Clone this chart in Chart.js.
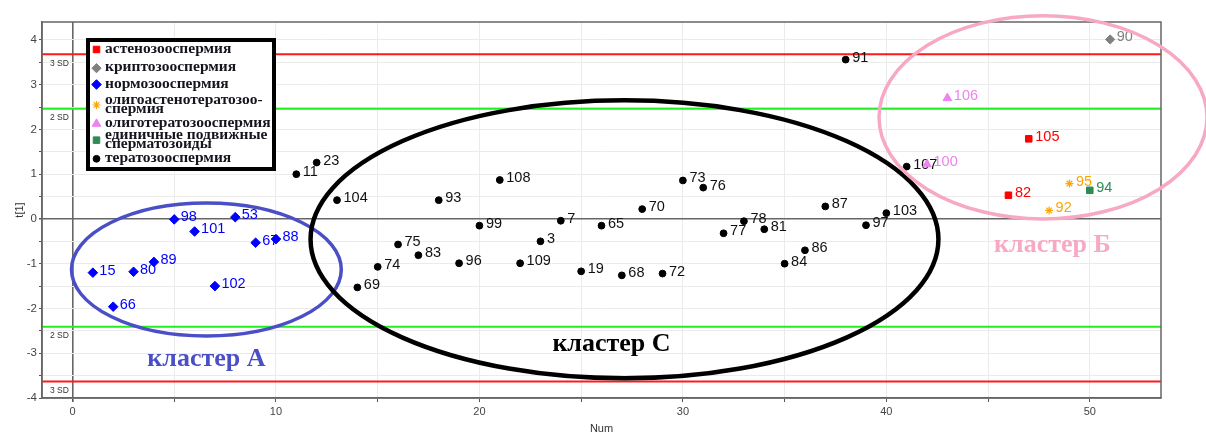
<!DOCTYPE html>
<html>
<head>
<meta charset="utf-8">
<script src="https://cdn.jsdelivr.net/npm/chart.js@4.4.1/dist/chart.umd.min.js"></script>
<style>
  html, body { margin: 0; padding: 0; background: #fff; }
  #wrap { width: 1206px; height: 434px; }
</style>
</head>
<body>
<div id="wrap"><canvas id="c" width="1206" height="434"></canvas></div>
<script>
// Score plot t[1] vs sample number, grouped by diagnosis
const astenoNum = [46, 47];
const astenoT1  = [0.53, 1.79];
const astenoId  = ['82', '105'];

const kriptoNum = [51];
const kriptoT1  = [4.01];
const kriptoId  = ['90'];

const normoNum = [1, 2, 3, 4, 5, 6, 7, 8, 9, 10];
const normoT1  = [-1.20, -1.96, -1.18, -0.96, -0.01, -0.28, -1.50, 0.04, -0.53, -0.45];
const normoId  = ['15', '66', '80', '89', '98', '101', '102', '53', '67', '88'];

const oligoAstenoNum = [48, 49];
const oligoAstenoT1  = [0.19, 0.79];
const oligoAstenoId  = ['92', '95'];

const oligoTeratoNum = [42, 43];
const oligoTeratoT1  = [1.22, 2.70];
const oligoTeratoId  = ['100', '106'];

const singleNum = [50];
const singleT1  = [0.64];
const singleId  = ['94'];

const teratoNum = [11, 12, 13, 14, 15, 16, 17, 18, 19, 20, 21, 22, 23, 24, 25, 26,
                   27, 28, 29, 30, 31, 32, 33, 34, 35, 36, 37, 38, 39, 40, 41];
const teratoT1  = [1.00, 1.26, 0.42, -1.53, -1.07, -0.57, -0.81, 0.42, -0.99, -0.15,
                   0.87, -0.99, -0.50, -0.04, -1.17, -0.15, -1.26, 0.22, -1.22, 0.86,
                   0.70, -0.32, -0.05, -0.23, -1.00, -0.70, 0.28, 3.56, -0.14, 0.13, 1.17];
const teratoId  = ['11', '23', '104', '69', '74', '75', '83', '93', '96', '99', '108',
                   '109', '3', '7', '19', '65', '68', '70', '72', '73', '76', '77', '78',
                   '81', '84', '86', '87', '91', '97', '103', '107'];

// Control limits (2 SD and 3 SD)
const sdLevels = [3.68, 2.46, -2.41, -3.63];
const sdNames  = ['3 SD', '2 SD', '2 SD', '3 SD'];

// Grid positions and the subset that carries a label
const xGridValues = [0, 5, 10, 15, 20, 25, 30, 35, 40, 45, 50];
const xTickLabels = [0, 10, 20, 30, 40, 50];
const yGridValues = [-4, -3.5, -3, -2.5, -2, -1.5, -1, -0.5, 0, 0.5, 1, 1.5, 2, 2.5, 3, 3.5, 4];
const yTickLabels = [-4, -3, -2, -1, 0, 1, 2, 3, 4];

const clusterNames = ['кластер А', 'кластер С', 'кластер Б'];

const legendLabels = [
  ['астенозооспермия'],
  ['криптозооспермия'],
  ['нормозооспермия'],
  ['олигоастенотератозоо-', 'спермия'],
  ['олиготератозооспермия'],
  ['единичные подвижные', 'сперматозоиды'],
  ['тератозооспермия']
];

function pts(xs, ys) { return xs.map((x, i) => ({ x: x, y: ys[i] })); }

const groups = [
  { name: legendLabels[0], xs: astenoNum, ys: astenoT1, ids: astenoId, color: '#ff0000', style: 'rect', r: 4.6 },
  { name: legendLabels[1], xs: kriptoNum, ys: kriptoT1, ids: kriptoId, color: '#808080', style: 'rectRot', r: 4.6 },
  { name: legendLabels[2], xs: normoNum, ys: normoT1, ids: normoId, color: '#0000ff', style: 'rectRot', r: 4.8 },
  { name: legendLabels[3], xs: oligoAstenoNum, ys: oligoAstenoT1, ids: oligoAstenoId, color: '#ffa500', style: 'star', r: 4 },
  { name: legendLabels[4], xs: oligoTeratoNum, ys: oligoTeratoT1, ids: oligoTeratoId, color: '#ee82ee', style: 'triangle', r: 5 },
  { name: legendLabels[5], xs: singleNum, ys: singleT1, ids: singleId, color: '#2e8b57', style: 'rect', r: 4.6 },
  { name: legendLabels[6], xs: teratoNum, ys: teratoT1, ids: teratoId, color: '#000000', style: 'circle', r: 3.4 }
];

// Cluster outlines in data units
const clusterShapes = [
  { cx: 6.58, cy: -1.13, rx: 6.63, ry: 1.485, color: '#4a4fc6', width: 3.5, tx: 6.58, ty: -3.14 },
  { cx: 27.13, cy: -0.455, rx: 15.43, ry: 3.105, color: '#000000', width: 4.5, tx: 26.49, ty: -2.81 },
  { cx: 47.7, cy: 2.27, rx: 8.06, ry: 2.27, color: '#f7a8c4', width: 3.5, tx: 48.16, ty: -0.59 }
];

function drawMarker(ctx, style, r, color, px, py) {
  ctx.save();
  ctx.fillStyle = color;
  ctx.strokeStyle = color;
  ctx.lineWidth = style === 'star' ? 1.2 : 1;
  Chart.helpers.drawPoint(ctx, { pointStyle: style, radius: r, borderWidth: ctx.lineWidth }, px, py);
  ctx.restore();
}

const overlay = {
  id: 'overlay',
  beforeDatasetsDraw(chart) {
    const { ctx, chartArea: a, scales: { y } } = chart;
    ctx.save();
    // control limit lines
    sdLevels.forEach((v, i) => {
      const py = y.getPixelForValue(v);
      ctx.strokeStyle = Math.abs(v) > 3 ? '#ff1a1a' : '#22ee22';
      ctx.lineWidth = 2;
      ctx.beginPath(); ctx.moveTo(a.left, py); ctx.lineTo(a.right, py); ctx.stroke();
      ctx.fillStyle = '#333';
      ctx.font = '8.5px Arial';
      ctx.textBaseline = 'middle';
      ctx.textAlign = 'left';
      ctx.fillText(sdNames[i], a.left + 8, py + 9);
    });
    // point labels
    chart.data.datasets.forEach((ds, di) => {
      const meta = chart.getDatasetMeta(di);
      ctx.fillStyle = ds.labelColor;
      ctx.font = '14.5px Arial';
      ctx.textBaseline = 'middle';
      ctx.textAlign = 'left';
      meta.data.forEach((el, i) => {
        ctx.fillText(ds.ids[i], el.x + 6.5, el.y - 2);
      });
    });
    ctx.restore();
  },
  afterDraw(chart) {
    const { ctx, chartArea: a, scales: { x, y } } = chart;
    ctx.save();
    // frame
    ctx.strokeStyle = '#666';
    ctx.lineWidth = 1.5;
    ctx.strokeRect(a.left, a.top, a.right - a.left, a.bottom - a.top);

    // cluster outlines and names
    clusterShapes.forEach((c, i) => {
      const px = x.getPixelForValue(c.cx), py = y.getPixelForValue(c.cy);
      const rx = Math.abs(x.getPixelForValue(c.cx + c.rx) - px);
      const ry = Math.abs(y.getPixelForValue(c.cy + c.ry) - py);
      ctx.strokeStyle = c.color;
      ctx.lineWidth = c.width;
      ctx.beginPath(); ctx.ellipse(px, py, rx, ry, 0, 0, Math.PI * 2); ctx.stroke();
      ctx.fillStyle = c.color;
      ctx.font = 'bold 26px "Liberation Serif", "Times New Roman", serif';
      ctx.textAlign = 'center';
      ctx.textBaseline = 'middle';
      ctx.fillText(clusterNames[i], x.getPixelForValue(c.tx), y.getPixelForValue(c.ty));
    });

    // axis titles
    ctx.fillStyle = '#333';
    ctx.font = '11px Arial';
    ctx.textAlign = 'center';
    ctx.textBaseline = 'middle';
    ctx.fillText('Num', (a.left + a.right) / 2, 429);
    ctx.save();
    ctx.translate(20, (a.top + a.bottom) / 2);
    ctx.rotate(-Math.PI / 2);
    ctx.fillText('t[1]', 0, 0);
    ctx.restore();

    // legend
    const lx = 88, ly = 40, lw = 186, lh = 129;
    ctx.fillStyle = '#fff';
    ctx.fillRect(lx, ly, lw, lh);
    ctx.strokeStyle = '#000';
    ctx.lineWidth = 4;
    ctx.strokeRect(lx, ly, lw, lh);
    const rows = [[49], [67.7], [84], [100, 109], [123.3], [135, 144.3], [158.3]];
    groups.forEach((g, i) => {
      const ys = rows[i];
      const my = (ys[0] + ys[ys.length - 1]) / 2 + 0.5;
      drawMarker(ctx, g.style, g.r, g.color, 96.5, my);
      ctx.font = 'bold 15.5px "Liberation Serif", "Times New Roman", serif';
      ctx.textAlign = 'left';
      ctx.textBaseline = 'alphabetic';
      ctx.fillStyle = '#15151f';
      g.name.forEach((line, k) => ctx.fillText(line, 105, ys[k] + 3.5));
    });
    ctx.restore();
  }
};

const zeroGrid = c => c.tick && c.tick.value === 0;

const chart = new Chart(document.getElementById('c'), {
  type: 'scatter',
  data: {
    datasets: groups.map(g => ({
      label: g.name.join(' '),
      data: pts(g.xs, g.ys),
      ids: g.ids,
      labelColor: g.color === '#000000' ? '#111' : g.color,
      pointStyle: g.style,
      pointRadius: g.r,
      pointBackgroundColor: g.color,
      pointBorderColor: g.color,
      pointBorderWidth: g.style === 'star' ? 1.2 : 1
    }))
  },
  options: {
    responsive: false,
    animation: false,
    layout: { padding: { top: 22, right: 45, left: 0, bottom: 0 } },
    plugins: { legend: { display: false }, tooltip: { enabled: false } },
    scales: {
      x: {
        type: 'linear',
        min: -1.5,
        max: 53.5,
        afterFit: s => { s.height = 36; },
        afterBuildTicks: s => { s.ticks = xGridValues.map(v => ({ value: v })); },
        border: { display: true, color: '#666', width: 1.5 },
        grid: {
          color: c => zeroGrid(c) ? '#666' : '#ebebeb',
          lineWidth: c => zeroGrid(c) ? 1.6 : 1,
          tickColor: '#555',
          tickLength: 4
        },
        ticks: {
          padding: 3,
          color: '#444',
          font: { family: 'Arial', size: 11 },
          maxRotation: 0,
          autoSkip: false,
          callback: v => xTickLabels.includes(v) ? String(v) : ''
        }
      },
      y: {
        type: 'linear',
        min: -4,
        max: 4.4,
        afterFit: s => { s.width = 42; },
        afterBuildTicks: s => { s.ticks = yGridValues.map(v => ({ value: v })); },
        border: { display: true, color: '#666', width: 1.5 },
        grid: {
          color: c => zeroGrid(c) ? '#666' : '#ebebeb',
          lineWidth: c => zeroGrid(c) ? 1.6 : 1,
          tickColor: '#555',
          tickLength: 3
        },
        ticks: {
          padding: 2,
          color: '#444',
          font: { family: 'Arial', size: 11.5 },
          autoSkip: false,
          callback: v => yTickLabels.includes(v) ? String(v) : ''
        }
      }
    }
  },
  plugins: [overlay]
});
</script>
</body>
</html>
